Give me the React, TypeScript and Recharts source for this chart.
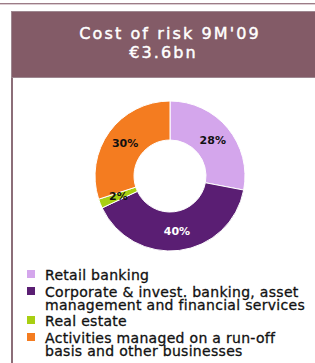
import { PieChart, Pie, Cell, Legend } from 'recharts';

const segments = [
  'Retail banking',
  'Corporate & invest. banking, asset management and financial services',
  'Real estate',
  'Activities managed on a run-off basis and other businesses'
];
const shares = [28, 40, 2, 30];

const COLORS = ['#d4a6ec', '#5a1e73', '#a8cf12', '#f47c20'];
const LABEL_COLORS = ['#111', '#fff', '#111', '#111'];

const FONT = '"DejaVu Sans", Verdana, sans-serif';
const RADIAN = Math.PI / 180;

const chartData = segments.map((name, i) => ({ name, value: shares[i] }));

// pourcentages au milieu de l'anneau
const renderLabel = (props: any) => {
  const { cx, cy, midAngle, innerRadius, outerRadius, index, value } = props;
  const r = (innerRadius + outerRadius) / 2;
  const x = cx + r * Math.cos(-midAngle * RADIAN);
  const y = cy + r * Math.sin(-midAngle * RADIAN);
  return (
    <text
      x={x}
      y={y}
      fill={LABEL_COLORS[index]}
      textAnchor="middle"
      dominantBaseline="central"
      fontSize={11}
      fontWeight="bold"
      fontFamily={FONT}
    >
      {`${value}%`}
    </text>
  );
};

const LegendBox = () => (
  <div
    style={{
      fontFamily: FONT,
      fontSize: 14,
      lineHeight: '13px',
      letterSpacing: 0.3,
      color: '#111',
      WebkitTextStroke: '0.3px #111'
    }}
  >
    {segments.map((s, i) => (
      <div key={s} style={{ display: 'flex', alignItems: 'flex-start', marginBottom: 3.5 }}>
        <span
          style={{
            width: 8,
            height: 8,
            background: COLORS[i],
            marginTop: 1,
            marginRight: 10,
            flex: 'none'
          }}
        />
        <span style={{ width: 270 }}>{s}</span>
      </div>
    ))}
  </div>
);

export default function App() {
  return (
    <div
      style={{
        position: 'absolute',
        left: 0,
        top: 0,
        width: 315,
        height: 363,
        background: '#fff',
        overflow: 'hidden'
      }}
    >
      {/* filet du haut */}
      <div style={{ position: 'absolute', left: 0, top: 3, width: 315, height: 1, background: '#9c7c87' }} />
      <div style={{ position: 'absolute', left: 0, top: 4, width: 315, height: 1, background: '#dccdd2' }} />
      {/* bandeau titre */}
      <div
        style={{
          position: 'absolute',
          left: 11,
          top: 11,
          width: 304,
          height: 67,
          background: '#835b67',
          borderLeft: '1px solid #9e8790',
          borderBottom: '1px solid #9e8790',
          borderTop: '1px solid #9e8790',
          boxSizing: 'border-box',
          color: '#fff',
          fontFamily: FONT,
          fontSize: 16,
          letterSpacing: 2.1,
          lineHeight: '18.7px',
          textAlign: 'center',
          paddingTop: 13,
          WebkitTextStroke: '0.45px #fff'
        }}
      >
        <div style={{ paddingLeft: 13 }}>Cost of risk 9M'09</div>
        <div>€3.6bn</div>
      </div>
      {/* trait vertical gauche */}
      <div style={{ position: 'absolute', left: 11, top: 78, width: 2, height: 285, background: '#8c6e78' }} />
      <div style={{ position: 'absolute', left: 0, top: 0 }}>
        <PieChart width={315} height={363}>
          <Pie
            data={chartData}
            dataKey="value"
            cx={165}
            cy={171}
            innerRadius={36}
            outerRadius={75}
            startAngle={90}
            endAngle={-270}
            stroke="#fff"
            strokeWidth={1}
            labelLine={false}
            label={renderLabel}
            isAnimationActive={false}
          >
            {chartData.map((entry, index) => (
              <Cell key={`cell-${index}`} fill={COLORS[index]} />
            ))}
          </Pie>
          <Legend
            content={<LegendBox />}
            wrapperStyle={{ position: 'absolute', left: 27, top: 269, width: 290 }}
          />
        </PieChart>
      </div>
    </div>
  );
}
